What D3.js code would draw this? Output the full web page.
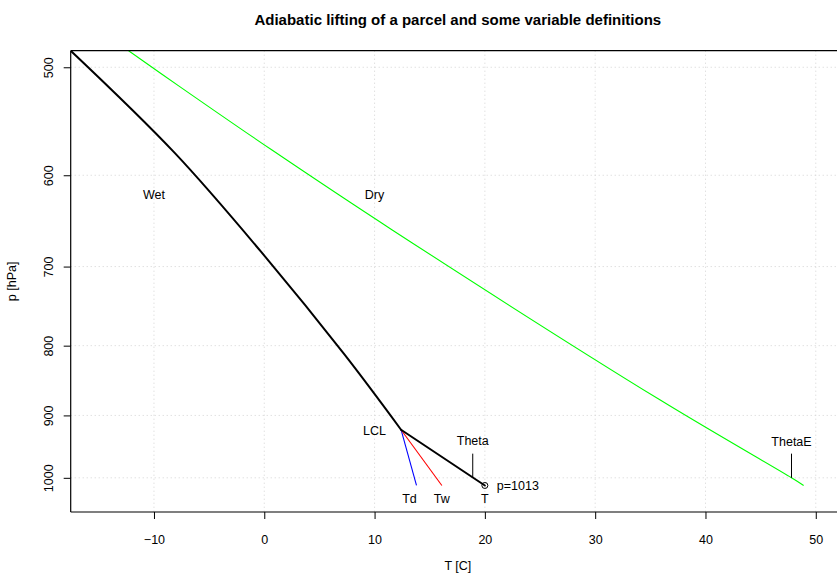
<!DOCTYPE html>
<html>
<head>
<meta charset="utf-8">
<script src="https://cdn.jsdelivr.net/npm/d3@7"></script>
<style>
  body { margin: 0; background: #fff; }
  svg { display: block; font-family: "Liberation Sans", Arial, Helvetica, sans-serif; }
</style>
</head>
<body>
<svg id="chart" width="837" height="574"></svg>
<script>
// Saturated (moist) ascent above the lifting condensation level
const wetT = [-17.55, -8.1, 0.06, 7.32, 12.4];
const wetP = [486.2, 578, 688, 813, 922];

// Dry adiabat passing through ThetaE
const dryT = [-12.3, -7.6, 0.7, 11.6, 35.9, 47.8, 48.9];
const dryP = [486.2, 517, 575, 658, 877, 1000, 1013];

// Surface parcel and derived quantities
const surfaceP = 1013;
const parcelT = 20.0;
const parcelTd = 13.8;
const parcelTw = 16.1;
const lclT = 12.4;
const lclP = 922;
const thetaT = 18.9;
const thetaET = 47.8;

const xTicks = [-10, 0, 10, 20, 30, 40, 50];
const yTicks = [500, 600, 700, 800, 900, 1000];

const title = "Adiabatic lifting of a parcel and some variable definitions";
const xTitle = "T [C]";
const yTitle = "p [hPa]";

const svg = d3.select("#chart");
const plotL = 70.7, plotR = 845, plotT = 50.7, plotB = 512;

const x = d3.scaleLinear().domain([-17.55, 52.65]).range([plotL, plotR]);
const y = d3.scaleLog().domain([486.2, 1059.4]).range([plotT, plotB]);

svg.append("defs").append("clipPath").attr("id", "plotArea")
  .append("rect").attr("x", plotL).attr("y", plotT)
  .attr("width", plotR - plotL).attr("height", plotB - plotT);

// dotted grid
const grid = svg.append("g").attr("stroke", "#d3d3d3").attr("stroke-width", 1)
  .attr("stroke-dasharray", "1,3");
grid.selectAll(".gx").data(xTicks).join("line").attr("class", "gx")
  .attr("x1", d => x(d)).attr("x2", d => x(d))
  .attr("y1", plotT).attr("y2", plotB);
grid.selectAll(".gy").data(yTicks).join("line").attr("class", "gy")
  .attr("x1", plotL).attr("x2", plotR)
  .attr("y1", d => y(d)).attr("y2", d => y(d));

const plot = svg.append("g").attr("clip-path", "url(#plotArea)");
const line = d3.line().x(d => x(d[0])).y(d => y(d[1]));
const smooth = d3.line().x(d => x(d[0])).y(d => y(d[1])).curve(d3.curveCatmullRom.alpha(0.5));

// dry adiabat (green)
plot.append("path").datum(d3.zip(dryT, dryP))
  .attr("d", smooth).attr("fill", "none").attr("stroke", "#00ff00").attr("stroke-width", 1.1);

// dewpoint and wet-bulb branches to the LCL
plot.append("path").datum([[parcelTd, surfaceP], [lclT, lclP]])
  .attr("d", line).attr("fill", "none").attr("stroke", "#0000ff").attr("stroke-width", 1.1);
plot.append("path").datum([[parcelTw, surfaceP], [lclT, lclP]])
  .attr("d", line).attr("fill", "none").attr("stroke", "#ff0000").attr("stroke-width", 1.1);

// parcel path: dry ascent to the LCL, then saturated ascent
plot.append("path").datum([[parcelT, surfaceP], [lclT, lclP]])
  .attr("d", line).attr("fill", "none").attr("stroke", "#000").attr("stroke-width", 2)
  .attr("stroke-linecap", "round");
plot.append("path").datum(d3.zip(wetT, wetP))
  .attr("d", smooth).attr("fill", "none").attr("stroke", "#000").attr("stroke-width", 2)
  .attr("stroke-linecap", "round");

// Theta and ThetaE markers
plot.selectAll(".mark").data([thetaT, thetaET]).join("line").attr("class", "mark")
  .attr("x1", d => x(d)).attr("x2", d => x(d))
  .attr("y1", y(1000)).attr("y2", y(960))
  .attr("stroke", "#000").attr("stroke-width", 1);

// surface parcel point
svg.append("circle").attr("cx", x(parcelT)).attr("cy", y(surfaceP)).attr("r", 3)
  .attr("fill", "none").attr("stroke", "#000").attr("stroke-width", 1);

// labels
const lab = svg.append("g").attr("font-size", 12.5).attr("fill", "#000");
function label(txt, px, py, anchor, dx, dy) {
  lab.append("text").attr("x", px + dx).attr("y", py + dy)
    .attr("text-anchor", anchor).attr("dy", "0.35em").text(txt);
}
label("Wet", x(-10), y(620), "middle", 0, 0);
label("Dry", x(10), y(620), "middle", 0, 0);
label("LCL", x(lclT), y(lclP), "end", -15, 1);
label("Td", x(parcelTd), y(surfaceP), "middle", -7, 13);
label("Tw", x(parcelTw), y(surfaceP), "middle", 0, 13);
label("T", x(parcelT), y(surfaceP), "middle", 0, 13);
label("p=1013", x(parcelT), y(surfaceP), "start", 12, 0);
label("Theta", x(thetaT), y(960), "middle", 0, -13);
label("ThetaE", x(thetaET), y(960), "middle", 0, -12);

// box: left, top and bottom sides
const box = svg.append("g").attr("stroke", "#000").attr("stroke-width", 1.2);
box.append("line").attr("x1", plotL).attr("x2", plotR).attr("y1", plotT).attr("y2", plotT);
box.append("line").attr("x1", plotL).attr("x2", plotR).attr("y1", plotB).attr("y2", plotB);
box.append("line").attr("x1", plotL).attr("x2", plotL).attr("y1", plotT).attr("y2", plotB);

// axes
const xAxis = svg.append("g").attr("transform", `translate(0,${plotB})`)
  .call(d3.axisBottom(x).tickValues(xTicks).tickSize(7).tickPadding(16)
    .tickFormat(d => d < 0 ? "\u2212" + Math.abs(d) : d));
xAxis.select(".domain").remove();
xAxis.selectAll("text").attr("font-size", 12.5).attr("font-family", null).attr("fill", "#000");
xAxis.selectAll("line").attr("stroke", "#000");

const yAxis = svg.append("g").attr("transform", `translate(${plotL},0)`)
  .call(d3.axisLeft(y).tickValues(yTicks).tickSize(7).tickFormat(d3.format("d")));
yAxis.select(".domain").remove();
yAxis.selectAll("line").attr("stroke", "#000");
yAxis.selectAll("text").attr("font-size", 12.5).attr("font-family", null).attr("fill", "#000")
  .attr("x", null).attr("dy", null)
  .attr("text-anchor", "middle")
  .attr("transform", "translate(-18,0) rotate(-90)");

// titles
svg.append("text").attr("x", (plotL + plotR) / 2).attr("y", 25)
  .attr("text-anchor", "middle").attr("font-size", 15).attr("font-weight", "bold").text(title);
svg.append("text").attr("x", (plotL + plotR) / 2).attr("y", 570)
  .attr("text-anchor", "middle").attr("font-size", 12.5).text(xTitle);
svg.append("text").attr("transform", `translate(16,${(plotT + plotB) / 2}) rotate(-90)`)
  .attr("text-anchor", "middle").attr("font-size", 12.5).text(yTitle);
</script>
</body>
</html>
